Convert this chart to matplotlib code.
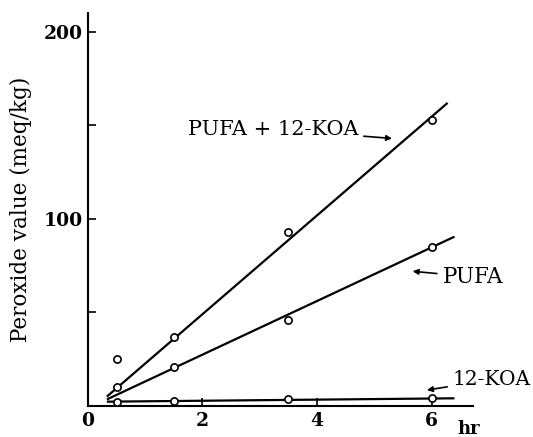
import matplotlib
matplotlib.use("Agg")
import matplotlib.pyplot as plt

# ─── DATA ──────────────────────────────────────────────────────────────────────
hours = [0.5, 1.5, 3.5, 6.0]

pufa_koa = [25, 37, 93, 153]
pufa     = [10, 21, 46, 85]
koa      = [2, 2.5, 3.5, 4]

# fitted straight lines: (x start, x end), (y start, y end)
pufa_koa_fit_x, pufa_koa_fit_y = [0.33, 6.28], [5, 162]
pufa_fit_x,     pufa_fit_y     = [0.33, 6.40], [3.5, 90.5]
koa_fit_x,      koa_fit_y      = [0.33, 6.40], [2.3, 4.1]

x_ticks = [0, 2, 4, 6]
y_ticks = [100, 200]
y_minor = [50, 150]

# ─── FIGURE ────────────────────────────────────────────────────────────────────
plt.rcParams["font.family"] = ["DejaVu Serif"]

fig = plt.figure(figsize=(5.33, 4.37), dpi=100)
ax = fig.add_axes([0.165, 0.071, 0.722, 0.899])

for fx, fy in [(pufa_koa_fit_x, pufa_koa_fit_y),
               (pufa_fit_x, pufa_fit_y),
               (koa_fit_x, koa_fit_y)]:
    ax.plot(fx, fy, color="black", lw=1.6, solid_capstyle="butt")

for ys in [pufa_koa, pufa, koa]:
    ax.plot(hours, ys, linestyle="none", marker="o", ms=5.2,
            mfc="white", mec="black", mew=1.2, zorder=3)

ax.set_xlim(0, 6.72)
ax.set_ylim(0, 210)
ax.spines["top"].set_visible(False)
ax.spines["right"].set_visible(False)
for s in ["left", "bottom"]:
    ax.spines[s].set_linewidth(1.5)

ax.set_xticks(x_ticks)
ax.set_yticks(y_ticks)
ax.set_yticks(y_minor, minor=True)
ax.tick_params(axis="both", direction="in", length=6, width=1.2,
               labelsize=13.5, pad=4)
ax.tick_params(axis="y", which="minor", direction="in", length=6, width=1.2)
for lab in ax.get_xticklabels() + ax.get_yticklabels():
    lab.set_fontweight("bold")

ax.set_ylabel("Peroxide value (meq/kg)", fontsize=15.5, labelpad=8)
ax.text(6.46, -12.5, "hr", fontsize=13, fontweight="bold",
        ha="left", va="center", clip_on=False)

# ─── CURVE LABELS WITH ARROWS ──────────────────────────────────────────────────
arrow = dict(arrowstyle="-|>", color="black", lw=1.2,
             mutation_scale=8, shrinkA=2, shrinkB=0)
ax.annotate("PUFA + 12-KOA", xy=(5.31, 143), xytext=(4.72, 148),
            fontsize=15, ha="right", va="center", arrowprops=arrow)
ax.annotate("PUFA", xy=(5.67, 72), xytext=(6.19, 69),
            fontsize=15.5, ha="left", va="center", arrowprops=arrow)
ax.annotate("12-KOA", xy=(5.92, 8.5), xytext=(6.37, 14),
            fontsize=14.5, ha="left", va="center", arrowprops=arrow)

fig.savefig("out.png", dpi=100)
